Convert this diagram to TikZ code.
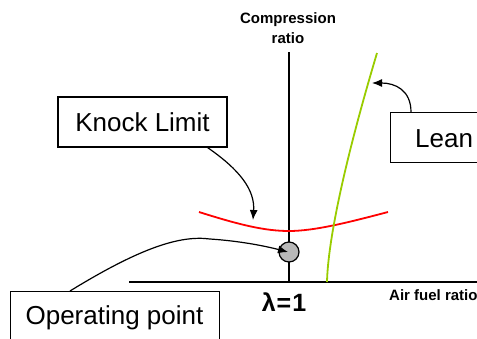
\documentclass[tikz,border=0pt]{standalone}
\usepackage{fontspec}
\setmainfont{Liberation Sans}
\usetikzlibrary{arrows.meta,calc}
\definecolor{leangreen}{HTML}{99CC00}
\begin{document}
\begin{tikzpicture}[x=1pt,y=-1pt,
  box/.style={draw=black,line width=1.2pt,rectangle,inner sep=0pt},
  boxtext/.style={font=\fontsize{26}{30}\selectfont,inner sep=0pt},
  lbl/.style={font=\bfseries\fontsize{15}{20}\selectfont,inner sep=0pt,align=center},
  axis/.style={line width=1.5pt},
  callout/.style={line width=1.2pt,-{Latex[length=10pt,width=8pt]}}]
\useasboundingbox (0,0) rectangle (477,338);
\clip (0,0) rectangle (477,338);
% axes
\coordinate (ytop) at (289,52);
\coordinate (orig) at (289,282);
\coordinate (xl) at (129,282);
\coordinate (xr) at (480,282);
\draw[axis] (ytop) -- (orig);
\draw[axis] (xl) -- (xr);
\node[lbl] (ylab) at (288,28) {Compression\\ratio};
\node[lbl,anchor=west] (xlab) at (389,295) {Air fuel ratio};
\node[font=\bfseries\fontsize{25}{30}\selectfont,inner sep=0pt] (lam) at (284,302) {λ\kern1pt=\kern1pt1};
% curves
\draw[red,line width=1.8pt] (199,212) .. controls (240,225) and (265,231) .. (289,231)
  .. controls (315,231) and (350,222) .. (388,212);
\draw[leangreen,line width=1.8pt] (327,282) .. controls (328,240) and (345,160) .. (377,53);
% operating point
\node[circle,draw=black,line width=1.2pt,fill=black!28,minimum size=20pt,inner sep=0pt] (pt) at (289,252) {};
% boxes
\node[box,minimum width=169pt,minimum height=50pt] (knock) at (142.5,122) {};
\node[boxtext] (knockt) at (knock.center) {Knock Limit};
\node[box,minimum width=110pt,minimum height=50pt,anchor=north west] (lean) at (390,112) {};
\node[boxtext,anchor=west] (leant) at (415,139) {Lean};
\node[box,minimum width=209pt,minimum height=70pt,anchor=north west] (op) at (10,291) {};
\node[boxtext] (opt) at (114.5,318) {Operating point};
% callouts
\coordinate (kend) at (253,220);
\coordinate (lend) at (372,83);
\draw[callout] ([xshift=-20pt]knock.south east) .. controls (240,170) and (255,190) .. (kend);
\draw[callout] ([xshift=21pt]lean.north west) .. controls (411,90) and (395,83) .. (lend);
\draw[callout] ([xshift=60pt]op.north west) .. controls (140,248) and (180,235) .. (210,239)
  .. controls (240,241) and (265,246) .. ([xshift=-1pt]pt.center);
\end{tikzpicture}
\end{document}
